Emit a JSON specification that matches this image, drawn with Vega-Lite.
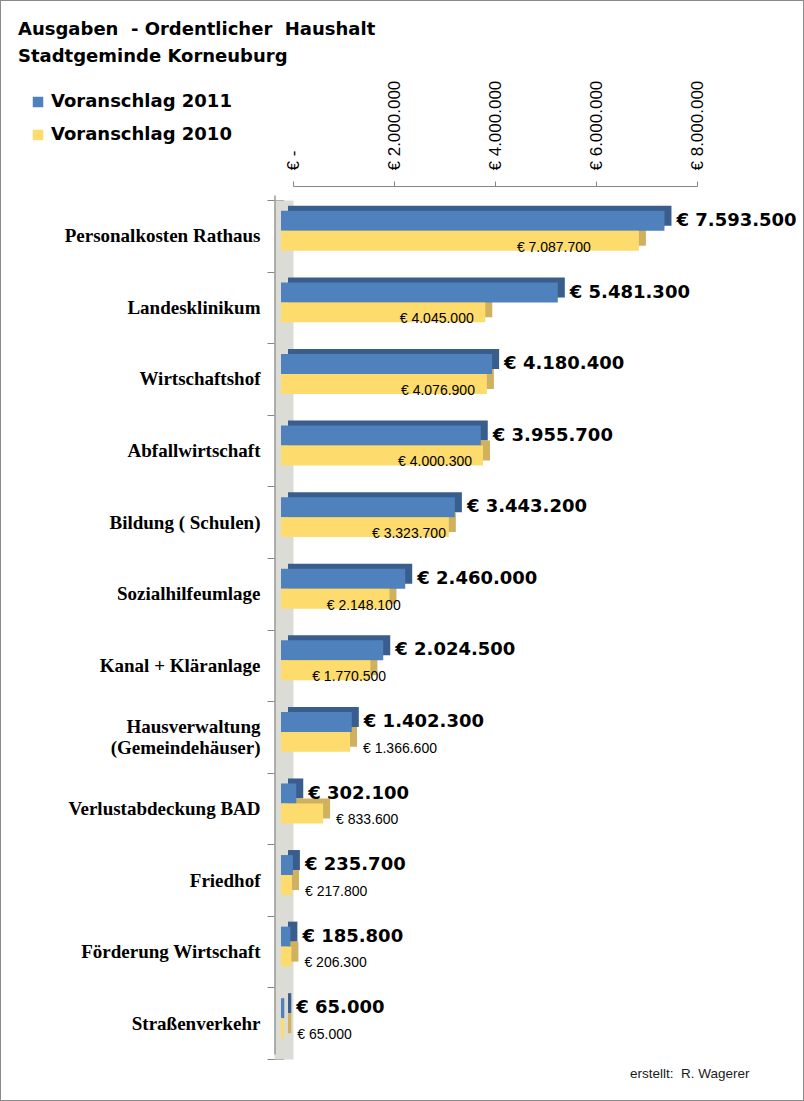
{
  "$schema": "https://vega.github.io/schema/vega-lite/v6.json",
  "width": 804,
  "height": 1101,
  "autosize": "none",
  "padding": 0,
  "background": "white",
  "title": {
    "text": ["Ausgaben \u00a0- Ordentlicher \u00a0Haushalt", "Stadtgeminde Korneuburg"],
    "anchor": "start",
    "frame": "group",
    "font": "DejaVu Sans",
    "fontSize": 18,
    "fontWeight": "bold",
    "color": "black",
    "lineHeight": 27,
    "baseline": "top",
    "offset": 0,
    "dx": 18,
    "dy": 75
  },
  "data": {
    "values": [
      {"k": "Personalkosten Rathaus", "s": "Voranschlag 2011", "v": 7593500},
      {"k": "Personalkosten Rathaus", "s": "Voranschlag 2010", "v": 7087700},
      {"k": "Landesklinikum", "s": "Voranschlag 2011", "v": 5481300},
      {"k": "Landesklinikum", "s": "Voranschlag 2010", "v": 4045000},
      {"k": "Wirtschaftshof", "s": "Voranschlag 2011", "v": 4180400},
      {"k": "Wirtschaftshof", "s": "Voranschlag 2010", "v": 4076900},
      {"k": "Abfallwirtschaft", "s": "Voranschlag 2011", "v": 3955700},
      {"k": "Abfallwirtschaft", "s": "Voranschlag 2010", "v": 4000300},
      {"k": "Bildung ( Schulen)", "s": "Voranschlag 2011", "v": 3443200},
      {"k": "Bildung ( Schulen)", "s": "Voranschlag 2010", "v": 3323700},
      {"k": "Sozialhilfeumlage", "s": "Voranschlag 2011", "v": 2460000},
      {"k": "Sozialhilfeumlage", "s": "Voranschlag 2010", "v": 2148100},
      {"k": "Kanal + Kläranlage", "s": "Voranschlag 2011", "v": 2024500},
      {"k": "Kanal + Kläranlage", "s": "Voranschlag 2010", "v": 1770500},
      {"k": "Hausverwaltung (Gemeindehäuser)", "s": "Voranschlag 2011", "v": 1402300},
      {"k": "Hausverwaltung (Gemeindehäuser)", "s": "Voranschlag 2010", "v": 1366600},
      {"k": "Verlustabdeckung BAD", "s": "Voranschlag 2011", "v": 302100},
      {"k": "Verlustabdeckung BAD", "s": "Voranschlag 2010", "v": 833600},
      {"k": "Friedhof", "s": "Voranschlag 2011", "v": 235700},
      {"k": "Friedhof", "s": "Voranschlag 2010", "v": 217800},
      {"k": "Förderung Wirtschaft", "s": "Voranschlag 2011", "v": 185800},
      {"k": "Förderung Wirtschaft", "s": "Voranschlag 2010", "v": 206300},
      {"k": "Straßenverkehr", "s": "Voranschlag 2011", "v": 65000},
      {"k": "Straßenverkehr", "s": "Voranschlag 2010", "v": 65000}
    ]
  },
  "resolve": {
    "scale": {"x": "independent", "y": "independent", "color": "independent", "yOffset": "independent"},
    "axis": {"x": "independent", "y": "independent"},
    "legend": {"color": "independent"}
  },
  "layer": [
    {
      "transform": [{"filter": "datum.s == 'Voranschlag 2011'"}],
      "mark": {"type": "rule", "color": "#9c9c9c", "strokeWidth": 1.2},
      "encoding": {
        "x": {
          "datum": 0,
          "type": "quantitative",
          "scale": {"domain": [0, 8000000], "range": [293, 697], "nice": false},
          "axis": {
            "orient": "top",
            "offset": -186,
            "values": [0, 2000000, 4000000, 6000000, 8000000],
            "format": ",.0f",
            "labelExpr": "datum.value == 0 ? '€ -' : '€ ' + datum.label",
            "labelAngle": -90,
            "labelFont": "Liberation Sans",
            "labelFontSize": 17,
            "labelColor": "black",
            "labelPadding": 11,
            "tickSize": 5,
            "tickColor": "#868686",
            "domainColor": "#868686",
            "grid": false,
            "title": null
          }
        },
        "y": {
          "field": "k",
          "type": "nominal",
          "scale": {"domain": ["Personalkosten Rathaus", "Landesklinikum", "Wirtschaftshof", "Abfallwirtschaft", "Bildung ( Schulen)", "Sozialhilfeumlage", "Kanal + Kläranlage", "Hausverwaltung (Gemeindehäuser)", "Verlustabdeckung BAD", "Friedhof", "Förderung Wirtschaft", "Straßenverkehr"], "range": [200, 1059], "paddingInner": 0, "paddingOuter": 0},
          "axis": {
            "orient": "left",
            "offset": -283.5,
            "domainWidth": 19,
            "domainColor": "#dcdcd6",
            "tickBand": "extent",
            "tickSize": 16.5,
            "tickColor": "#868686",
            "labelPadding": 7,
            "labelFont": "Liberation Serif",
            "labelFontWeight": "bold",
            "labelFontSize": 19,
            "labelColor": "black",
            "labelLimit": 0,
            "labelLineHeight": 21,
            "labelOffset": {"condition": {"test": "datum.value == 'Hausverwaltung (Gemeindehäuser)'", "value": -10}, "value": 0},
            "labelExpr": "datum.label == 'Hausverwaltung (Gemeindehäuser)' ? ['Hausverwaltung\u00a0', '(Gemeindehäuser)'] : datum.label",
            "grid": false,
            "title": null
          }
        }
      }
    },
    {
      "mark": {"type": "bar"},
      "encoding": {
        "x": {
          "field": "v",
          "type": "quantitative",
          "scale": {"domain": [0, 8000000], "range": [288, 692], "nice": false},
          "axis": {
            "orient": "bottom",
            "domain": false,
            "ticks": false,
            "labels": false,
            "grid": false,
            "title": "erstellt: \u00a0R. Wagerer",
            "titleFont": "Liberation Sans",
            "titleFontSize": 13.5,
            "titleFontWeight": "normal",
            "titleColor": "#1a1a1a",
            "titleAlign": "right",
            "titleAnchor": "end",
            "titleBaseline": "alphabetic",
            "titleX": 749,
            "titleY": -23.5
          }
        },
        "y": {
          "field": "k",
          "type": "nominal",
          "scale": {"domain": ["Personalkosten Rathaus", "Landesklinikum", "Wirtschaftshof", "Abfallwirtschaft", "Bildung ( Schulen)", "Sozialhilfeumlage", "Kanal + Kläranlage", "Hausverwaltung (Gemeindehäuser)", "Verlustabdeckung BAD", "Friedhof", "Förderung Wirtschaft", "Straßenverkehr"], "range": [190, 1049], "paddingInner": 0, "paddingOuter": 0},
          "axis": null
        },
        "yOffset": {
          "field": "s",
          "type": "nominal",
          "scale": {"domain": ["Voranschlag 2011", "Voranschlag 2010"], "paddingInner": 0, "paddingOuter": 0.79}
        },
        "color": {
          "field": "s",
          "type": "nominal",
          "scale": {"domain": ["Voranschlag 2011", "Voranschlag 2010"], "range": ["#395d8c", "#d0b25e"]},
          "legend": null
        }
      }
    },
    {
      "mark": {"type": "bar"},
      "encoding": {
        "x": {
          "field": "v",
          "type": "quantitative",
          "scale": {"domain": [0, 8000000], "range": [281, 685], "nice": false},
          "axis": null
        },
        "y": {
          "field": "k",
          "type": "nominal",
          "scale": {"domain": ["Personalkosten Rathaus", "Landesklinikum", "Wirtschaftshof", "Abfallwirtschaft", "Bildung ( Schulen)", "Sozialhilfeumlage", "Kanal + Kläranlage", "Hausverwaltung (Gemeindehäuser)", "Verlustabdeckung BAD", "Friedhof", "Förderung Wirtschaft", "Straßenverkehr"], "range": [195, 1054], "paddingInner": 0, "paddingOuter": 0},
          "axis": {
            "orient": "left",
            "offset": -274.5,
            "domainWidth": 1.5,
            "domainColor": "#9a9a9a",
            "ticks": false,
            "labels": false,
            "grid": false,
            "title": null
          }
        },
        "yOffset": {
          "field": "s",
          "type": "nominal",
          "scale": {"domain": ["Voranschlag 2011", "Voranschlag 2010"], "paddingInner": 0, "paddingOuter": 0.79}
        },
        "color": {
          "field": "s",
          "type": "nominal",
          "scale": {"domain": ["Voranschlag 2011", "Voranschlag 2010"], "range": ["#4f81bd", "#fddb6d"]},
          "legend": {
            "orient": "none",
            "legendX": 29,
            "legendY": 93,
            "title": null,
            "padding": 0,
            "symbolType": "square",
            "symbolSize": 110,
            "symbolStrokeWidth": 0,
            "labelFont": "DejaVu Sans",
            "labelFontWeight": "bold",
            "labelFontSize": 18,
            "labelColor": "black",
            "labelOffset": 4,
            "rowPadding": 15,
            "labelLimit": 0
          }
        }
      }
    },
    {
      "transform": [{"filter": "datum.s == 'Voranschlag 2011'"}],
      "mark": {"type": "text", "align": "left", "baseline": "middle", "dx": 12, "dy": 4, "font": "DejaVu Sans", "fontWeight": "bold", "fontSize": 18, "color": "black"},
      "encoding": {
        "x": {"field": "v", "type": "quantitative", "scale": {"domain": [0, 8000000], "range": [281, 685], "nice": false}, "axis": null},
        "y": {"field": "k", "type": "nominal", "scale": {"domain": ["Personalkosten Rathaus", "Landesklinikum", "Wirtschaftshof", "Abfallwirtschaft", "Bildung ( Schulen)", "Sozialhilfeumlage", "Kanal + Kläranlage", "Hausverwaltung (Gemeindehäuser)", "Verlustabdeckung BAD", "Friedhof", "Förderung Wirtschaft", "Straßenverkehr"], "range": [195, 1054], "paddingInner": 0, "paddingOuter": 0}, "axis": null},
        "yOffset": {"field": "s", "type": "nominal", "scale": {"domain": ["Voranschlag 2011", "Voranschlag 2010"], "paddingInner": 0, "paddingOuter": 0.79}},
        "text": {"field": "v", "type": "quantitative", "format": "$,.0f"}
      }
    },
    {
      "transform": [{"filter": "datum.s == 'Voranschlag 2010' && datum.v < 1500000"}],
      "mark": {"type": "text", "align": "left", "baseline": "middle", "dx": 13, "dy": 3, "font": "Liberation Sans", "fontSize": 14, "color": "black"},
      "encoding": {
        "x": {"field": "v", "type": "quantitative", "scale": {"domain": [0, 8000000], "range": [281, 685], "nice": false}, "axis": null},
        "y": {"field": "k", "type": "nominal", "scale": {"domain": ["Personalkosten Rathaus", "Landesklinikum", "Wirtschaftshof", "Abfallwirtschaft", "Bildung ( Schulen)", "Sozialhilfeumlage", "Kanal + Kläranlage", "Hausverwaltung (Gemeindehäuser)", "Verlustabdeckung BAD", "Friedhof", "Förderung Wirtschaft", "Straßenverkehr"], "range": [195, 1054], "paddingInner": 0, "paddingOuter": 0}, "axis": null},
        "yOffset": {"field": "s", "type": "nominal", "scale": {"domain": ["Voranschlag 2011", "Voranschlag 2010"], "paddingInner": 0, "paddingOuter": 0.79}},
        "text": {"field": "v", "type": "quantitative", "format": "$,.0f"}
      }
    },
    {
      "transform": [{"filter": "datum.s == 'Voranschlag 2010' && datum.v >= 1500000"}],
      "mark": {"type": "text", "align": "center", "baseline": "middle", "dy": 3, "font": "Liberation Sans", "fontSize": 14, "color": "black"},
      "encoding": {
        "x": {"field": "v", "type": "quantitative", "scale": {"domain": [0, 8000000], "range": [281, 589], "nice": false}, "axis": null},
        "y": {"field": "k", "type": "nominal", "scale": {"domain": ["Personalkosten Rathaus", "Landesklinikum", "Wirtschaftshof", "Abfallwirtschaft", "Bildung ( Schulen)", "Sozialhilfeumlage", "Kanal + Kläranlage", "Hausverwaltung (Gemeindehäuser)", "Verlustabdeckung BAD", "Friedhof", "Förderung Wirtschaft", "Straßenverkehr"], "range": [195, 1054], "paddingInner": 0, "paddingOuter": 0}, "axis": null},
        "yOffset": {"field": "s", "type": "nominal", "scale": {"domain": ["Voranschlag 2011", "Voranschlag 2010"], "paddingInner": 0, "paddingOuter": 0.79}},
        "text": {"field": "v", "type": "quantitative", "format": "$,.0f"}
      }
    }
  ],
  "config": {
    "view": {"stroke": "#8a8a8a", "strokeWidth": 2},
    "locale": {"number": {"decimal": ",", "thousands": ".", "grouping": [3], "currency": ["€ ", ""]}}
  }
}
